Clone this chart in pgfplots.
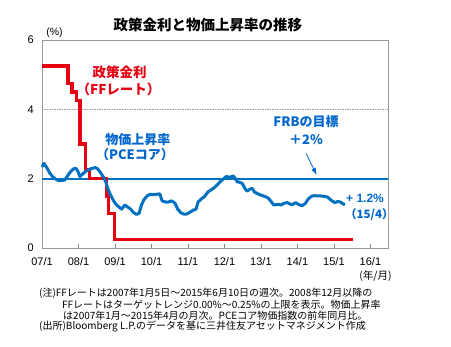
\documentclass[border=0pt]{standalone}
\usepackage{fontspec}
\usepackage{pgfplots}
\pgfplotsset{compat=1.18}
\usetikzlibrary{arrows.meta}
\setmainfont{Liberation Sans}
\newfontfamily\jp{Noto Sans CJK JP}
\definecolor{ffred}{RGB}{230,0,18}
\definecolor{pceblue}{RGB}{0,112,192}
\definecolor{txtblue}{RGB}{0,102,204}
\begin{document}
\begin{tikzpicture}
\useasboundingbox (0pt,0pt) rectangle (451pt,347pt);
\begin{axis}[
  at={(42pt,99pt)}, anchor=south west, scale only axis,
  width=346.3pt, height=208pt,
  xmin=2007, xmax=2016.49, ymin=0, ymax=6,
  xtick={2007,2008,2009,2010,2011,2012,2013,2014,2015,2016},
  xticklabels={07/1,08/1,09/1,10/1,11/1,12/1,13/1,14/1,15/1,16/1},
  ytick={0,2,4,6}, yticklabels={0,2,4,6},
  tick align=inside, xtick pos=bottom, ytick pos=left,
  major tick length=4pt,
  xtick style={gray, line width=0.6pt},
  ytick style={draw=none},
  axis line style={gray!80, line width=0.7pt},
  ymajorgrids, grid style={gray!80, line width=0.6pt, dash pattern=on 1.5pt off 1pt},
  ticklabel style={font=\fontsize{11}{11}\selectfont},
  yticklabel style={inner sep=0pt, xshift=-8pt},
  xticklabel style={inner sep=0pt, yshift=-9pt},
  clip=false,
]
\addplot[pceblue, line width=1.8pt] coordinates {(2007,2) (2016.49,2)};
\addplot[ffred, line width=3.2pt, const plot] coordinates {
(2007.00,5.25) (2007.71,4.75) (2007.82,4.50) (2007.94,4.25) (2008.04,3.00)
(2008.20,2.25) (2008.31,2.00) (2008.76,1.50) (2008.83,1.00) (2008.98,0.25) (2015.51,0.25)};
\addplot[pceblue, line width=3pt, line join=round] coordinates {
(2007.00,2.34) (2007.06,2.44) (2007.14,2.30) (2007.22,2.15) (2007.30,2.05)
(2007.38,1.98) (2007.47,1.94) (2007.55,1.95) (2007.62,1.96) (2007.70,2.08)
(2007.78,2.20) (2007.86,2.28) (2007.93,2.30) (2007.98,2.22) (2008.04,2.06)
(2008.13,2.15) (2008.21,2.22) (2008.30,2.27) (2008.38,2.30) (2008.46,2.32)
(2008.53,2.28) (2008.60,2.18) (2008.68,2.05) (2008.75,1.90) (2008.80,1.72)
(2008.87,1.55) (2008.95,1.38) (2009.02,1.27) (2009.09,1.20) (2009.18,1.12)
(2009.27,1.24) (2009.35,1.18) (2009.43,1.12) (2009.51,1.02) (2009.59,0.97)
(2009.66,1.00) (2009.73,1.25) (2009.80,1.40) (2009.88,1.50) (2009.96,1.55)
(2010.05,1.54) (2010.14,1.55) (2010.23,1.56) (2010.29,1.36) (2010.37,1.33)
(2010.45,1.32) (2010.55,1.36) (2010.64,1.30) (2010.72,1.12) (2010.80,1.02)
(2010.88,0.98) (2010.97,0.98) (2011.05,1.03) (2011.14,1.09) (2011.22,1.12)
(2011.28,1.33) (2011.37,1.42) (2011.45,1.48) (2011.55,1.62) (2011.64,1.68)
(2011.72,1.74) (2011.82,1.84) (2011.90,1.93) (2011.97,1.99) (2012.05,2.06)
(2012.15,2.04) (2012.24,2.08) (2012.30,2.00) (2012.35,1.91) (2012.43,1.89)
(2012.49,1.86) (2012.56,1.72) (2012.62,1.64) (2012.70,1.70) (2012.76,1.72)
(2012.82,1.62) (2012.88,1.58) (2012.99,1.53) (2013.07,1.50) (2013.15,1.47)
(2013.22,1.42) (2013.28,1.34) (2013.35,1.24) (2013.42,1.25) (2013.49,1.26)
(2013.56,1.24) (2013.63,1.29) (2013.72,1.31) (2013.81,1.26) (2013.88,1.26)
(2013.95,1.31) (2014.04,1.25) (2014.13,1.22) (2014.22,1.29) (2014.30,1.42)
(2014.40,1.50) (2014.48,1.51) (2014.56,1.50) (2014.64,1.50) (2014.74,1.49)
(2014.82,1.47) (2014.90,1.40) (2014.96,1.35) (2015.03,1.31) (2015.10,1.34)
(2015.17,1.33) (2015.30,1.24)};
\end{axis}
% title and labels
\node at (208pt,322pt) {\jp\bfseries\fontsize{14.5}{14.5}\selectfont 政策金利と物価上昇率の推移};
\node at (54.5pt,314.5pt) {\fontsize{10.5}{10.5}\selectfont (\%)};
\node at (375.5pt,71pt) {\jp\fontsize{10.5}{10.5}\selectfont (年/月)};
% annotations
\node[text=ffred] at (119.5pt,274.5pt) {\jp\bfseries\fontsize{13.5}{13.5}\selectfont 政策金利};
\node[text=ffred] at (118.5pt,258pt) {\jp\bfseries\fontsize{13.5}{13.5}\selectfont （FFレート）};
\node[text=txtblue] at (138pt,207pt) {\jp\bfseries\fontsize{13}{13}\selectfont 物価上昇率};
\node[text=txtblue] at (135pt,192.5pt) {\jp\bfseries\fontsize{13}{13}\selectfont （PCEコア）};
\node[text=txtblue] at (306pt,225.5pt) {\jp\bfseries\fontsize{13}{13}\selectfont FRBの目標};
\node[text=txtblue] at (306pt,207.5pt) {\jp\bfseries\fontsize{13}{13}\selectfont ＋2\%};
\draw[txtblue, line width=0.8pt, -{Latex[length=7pt,width=5pt]}] (306pt,193.7pt) -- (316.7pt,172pt);
\node[text=txtblue, anchor=west, inner sep=0pt] at (346pt,148.5pt) {\fontsize{12}{12}\selectfont\bfseries + 1.2\%};
\node[text=txtblue, anchor=west, inner sep=0pt] at (345pt,132.5pt) {\jp\bfseries\fontsize{11.5}{11.5}\selectfont （15/4）};
% notes
\begin{scope}[every node/.style={anchor=west, inner sep=0pt}]
\node at (39pt,53.5pt) {\jp\fontsize{10}{10}\selectfont (注)FFレートは2007年1月5日～2015年6月10日の週次。2008年12月以降の};
\node at (62pt,42.5pt) {\jp\fontsize{10}{10}\selectfont FFレートはターゲットレンジ0.00\%～0.25\%の上限を表示。物価上昇率};
\node at (63pt,31.5pt) {\jp\fontsize{10}{10}\selectfont は2007年1月～2015年4月の月次。PCEコア物価指数の前年同月比。};
\node at (39pt,20.5pt) {\jp\fontsize{10}{10}\selectfont (出所)Bloomberg L.P.のデータを基に三井住友アセットマネジメント作成};
\end{scope}
\end{tikzpicture}
\end{document}
